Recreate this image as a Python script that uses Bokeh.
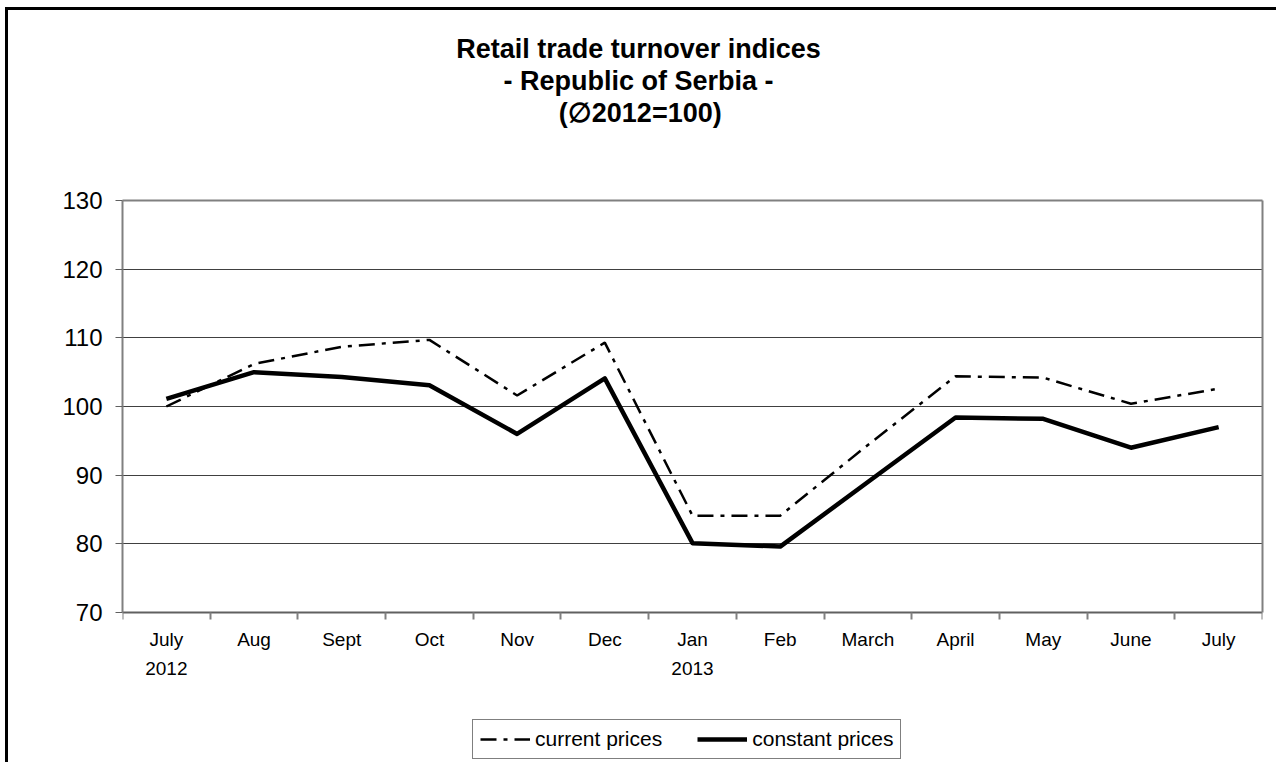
from bokeh.plotting import figure
from bokeh.models import Range1d, FixedTicker, Legend, LegendItem, Title, LinearAxis
from bokeh.embed import file_html
from bokeh.resources import INLINE

# ---- data ----
months = ["July\n2012", "Aug", "Sept", "Oct", "Nov", "Dec", "Jan\n2013",
          "Feb", "March", "April", "May", "June", "July"]
current_prices = [100.0, 106.2, 108.7, 109.7, 101.6, 109.3, 84.1, 84.1,
                  94.4, 104.4, 104.2, 100.4, 102.6]
constant_prices = [101.1, 105.0, 104.3, 103.1, 96.0, 104.1, 80.1, 79.6,
                   89.0, 98.4, 98.2, 94.0, 97.0]
y_ticks = [70, 80, 90, 100, 110, 120, 130]
title_lines = ["Retail trade turnover indices", "- Republic of Serbia -",
               "(\u22052012=100)"]
series_names = ["current prices", "constant prices"]

FONT = "Liberation Sans"
TITLE_SIZE = 27
xs = list(range(1, len(months) + 1))
Y_MIN, Y_MAX = y_ticks[0], y_ticks[-1]

# approximate bold advance widths (em/1000) used to centre the title lines
BOLD_W = {" ": 278, "-": 333, "(": 333, ")": 333, "=": 584, "R": 722, "S": 667,
          "a": 556, "b": 611, "c": 556, "d": 611, "e": 556, "f": 333, "i": 278,
          "l": 278, "n": 611, "o": 611, "p": 611, "r": 389, "s": 556, "t": 333,
          "u": 611, "v": 556, "\u2205": 760}
def text_w(s, size):
    return sum(BOLD_W.get(ch, 556) for ch in s) * size / 1000.0

# layout (pixels)
W, H = 1276, 762
FRAME_LEFT, FRAME_TOP = 122, 200
PLOT_BOTTOM = 612          # pixel row of the value axis minimum
MIN_BORDER_BOTTOM = 2
TITLE_CENTER = 638
px_per_unit = (PLOT_BOTTOM - FRAME_TOP) / (Y_MAX - Y_MIN)
frame_h = H - FRAME_TOP - MIN_BORDER_BOTTOM
y_low = Y_MAX - frame_h / px_per_unit   # extra room below the axis for the legend

p = figure(width=W, height=H, output_backend="svg", toolbar_location=None,
           x_range=Range1d(0.5, len(months) + 0.5), y_range=Range1d(y_low, Y_MAX),
           min_border_left=FRAME_LEFT, min_border_right=14, min_border_top=FRAME_TOP,
           min_border_bottom=MIN_BORDER_BOTTOM)
p.styles = {"box-shadow": "inset 5px 7px 0px 0px white, inset 8px 10px 0px 0px black"}
p.background_fill_color = "white"
p.border_fill_color = None
p.outline_line_color = None

# x axis fixed at the minimum of the value scale
p.xaxis.fixed_location = Y_MIN
p.xaxis.ticker = FixedTicker(ticks=xs, minor_ticks=[x - 0.5 for x in xs] + [len(months) + 0.5])
p.xaxis.major_label_overrides = {x: m for x, m in zip(xs, months)}
p.xaxis.major_tick_line_color = None
p.xaxis.minor_tick_line_color = "#808080"
p.xaxis.minor_tick_line_width = 2
p.xaxis.minor_tick_in = 0
p.xaxis.minor_tick_out = 7
p.xaxis.axis_line_color = "#606060"
p.xaxis.axis_line_width = 2
p.xaxis.major_label_text_font = FONT
p.xaxis.major_label_text_font_style = "normal"
p.xaxis.major_label_text_font_size = "19px"
p.xaxis.major_label_text_line_height = 1.4
p.xaxis.major_label_text_color = "black"
p.xaxis.major_label_standoff = 9

p.yaxis.bounds = (Y_MIN, Y_MAX)
p.yaxis.ticker = FixedTicker(ticks=y_ticks)
p.yaxis.axis_line_color = "#808080"
p.yaxis.axis_line_width = 2
p.yaxis.major_tick_line_color = "#606060"
p.yaxis.major_tick_line_width = 1
p.yaxis.major_tick_in = 0
p.yaxis.major_tick_out = 7
p.yaxis.minor_tick_line_color = None
p.yaxis.major_label_text_font = FONT
p.yaxis.major_label_text_font_style = "normal"
p.yaxis.major_label_text_font_size = "24px"
p.yaxis.major_label_text_color = "black"
p.yaxis.major_label_standoff = 13

# plot-area border on the right and top (no ticks, no labels)
right_ax = LinearAxis(bounds=(Y_MIN, Y_MAX), ticker=FixedTicker(ticks=[]),
                      axis_line_color="#808080", axis_line_width=2,
                      major_tick_line_color=None, minor_tick_line_color=None)
p.add_layout(right_ax, "right")
top_ax = LinearAxis(ticker=FixedTicker(ticks=[]), axis_line_color="#808080",
                    axis_line_width=2, major_tick_line_color=None,
                    minor_tick_line_color=None)
p.add_layout(top_ax, "above")

p.xgrid.grid_line_color = None
p.ygrid.ticker = FixedTicker(ticks=y_ticks[1:-1])
p.ygrid.grid_line_color = "#404040"
p.ygrid.grid_line_width = 1

# lines
r_cur = p.line(xs, current_prices, line_color="black", line_width=2.5,
               line_dash="16 7 4 7")
r_con = p.line(xs, constant_prices, line_color="black", line_width=4.5,
               line_join="round")

legend = Legend(items=[LegendItem(label=series_names[0], renderers=[r_cur]),
                       LegendItem(label=series_names[1], renderers=[r_con])],
                orientation="horizontal", location=(350, 1))
legend.label_text_font = FONT
legend.label_text_font_size = "21px"
legend.label_text_color = "black"
legend.label_standoff = 5
legend.glyph_width = 50
legend.spacing = 35
legend.padding = 7
legend.margin = 0
legend.border_line_color = "black"
legend.border_line_width = 1
legend.background_fill_alpha = 1
p.add_layout(legend, "center")

# title: spacer nearest the frame, then the lines from bottom to top
p.add_layout(Title(text=" ", text_font_size="1px", standoff=70), "above")
for t in reversed(title_lines):
    p.add_layout(Title(text=t, align="left",
                       offset=TITLE_CENTER - FRAME_LEFT - text_w(t, TITLE_SIZE) / 2,
                       standoff=0, text_font=FONT, text_font_style="bold",
                       text_font_size=f"{TITLE_SIZE}px", text_color="black"),
                 "above")

open("out.html", "w").write(file_html(p, INLINE))
